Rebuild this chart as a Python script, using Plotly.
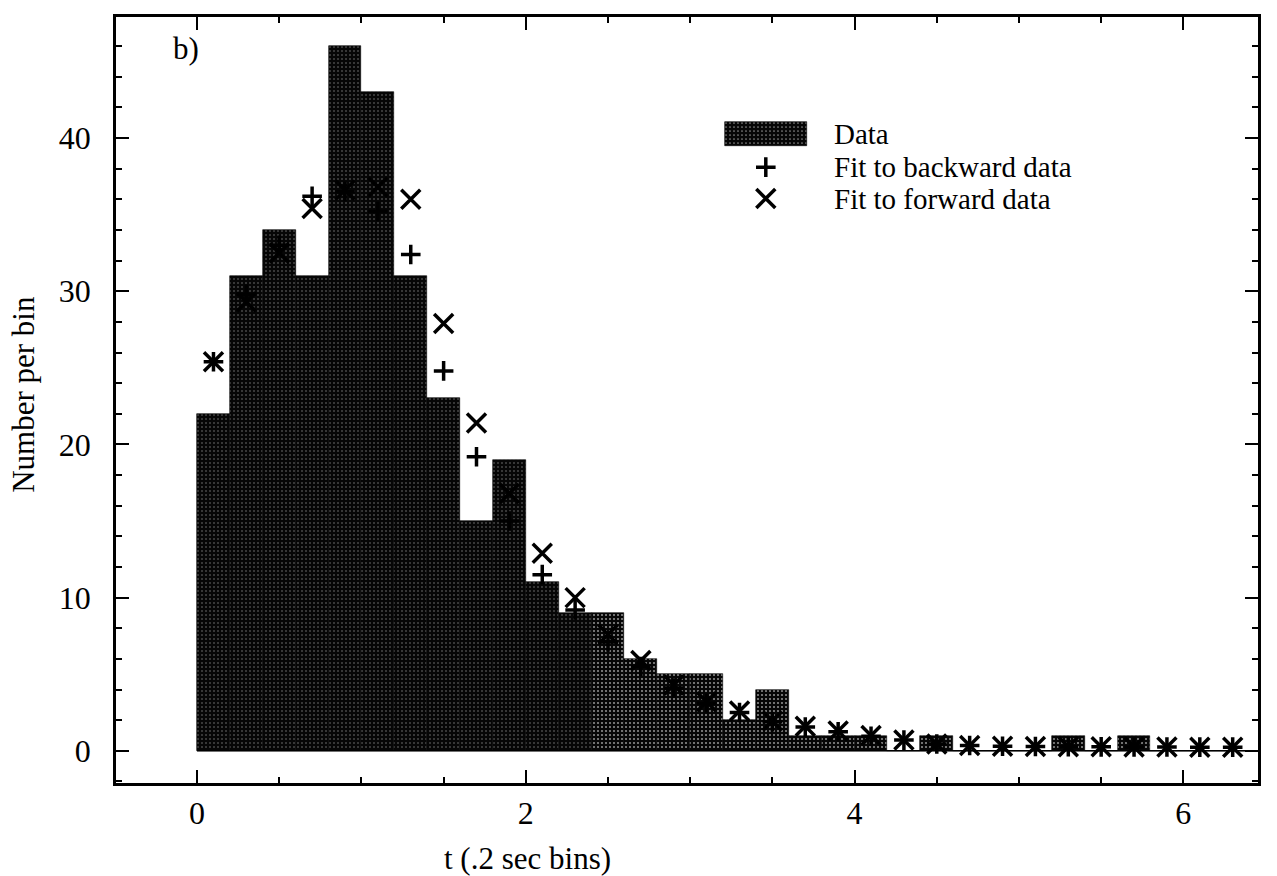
import plotly.graph_objects as go

# ---- data ----
bin_edges = [round(0.2 * i, 1) for i in range(33)]  # 0.0 .. 6.4
counts = [22, 31, 34, 31, 46, 43, 31, 23, 15, 19, 11, 9, 9, 6, 5, 5,
          2, 4, 1, 1, 1, 0, 1, 0, 0, 0, 1, 0, 1, 0, 0, 0]
bin_centers = [round((bin_edges[i] + bin_edges[i + 1]) / 2, 2) for i in range(len(counts))]
bin_widths = [round(bin_edges[i + 1] - bin_edges[i], 2) for i in range(len(counts))]

fit_backward = [25.4, 29.8, 33.0, 36.2, 36.5, 35.2, 32.4, 24.8, 19.2, 15.0,
                11.5, 9.2, 7.1, 5.5, 4.1, 3.1, 2.5, 1.9, 1.55, 1.25,
                0.95, 0.7, 0.45, 0.35, 0.3, 0.28, 0.27, 0.26, 0.25, 0.25, 0.24, 0.24]
fit_forward = [25.4, 29.3, 32.5, 35.4, 36.6, 36.8, 36.0, 27.9, 21.4, 16.8,
               12.9, 10.0, 7.6, 5.9, 4.3, 3.2, 2.6, 1.95, 1.6, 1.3,
               1.0, 0.7, 0.45, 0.35, 0.3, 0.28, 0.27, 0.26, 0.25, 0.25, 0.24, 0.24]

legend_labels = ["Data", "Fit to backward data", "Fit to forward data"]
x_title = "t (.2 sec bins)"
y_title = "Number per bin"
panel_label = "b)"

# ---- style ----
FONT = "Liberation Serif"
bar_solidity = [0.09] * 12 + [0.22] * 20   # stipple gets lighter to the right

bar_marker = dict(
    color="#060606",
    line=dict(color="black", width=0.6),
    pattern=dict(shape=".", fgcolor="#8c8c8c", bgcolor="#060606",
                 size=4, solidity=bar_solidity, fillmode="replace"),
)
legend_bar_marker = dict(
    color="#060606",
    line=dict(color="black", width=0.6),
    pattern=dict(shape=".", fgcolor="#8c8c8c", bgcolor="#060606",
                 size=4, solidity=0.14, fillmode="replace"),
)

fig = go.Figure()

# baseline line at zero
fig.add_trace(go.Scatter(x=[bin_edges[0], bin_edges[-1]], y=[0, 0], mode="lines",
                         line=dict(color="black", width=1.5), showlegend=False,
                         hoverinfo="skip"))

fig.add_trace(go.Bar(x=bin_centers, y=counts, width=bin_widths, marker=bar_marker,
                     name=legend_labels[0], showlegend=False))

fig.add_trace(go.Scatter(x=bin_centers, y=fit_backward, mode="markers",
                         name=legend_labels[1], showlegend=False,
                         marker=dict(symbol="cross-thin", size=14, color="black",
                                     line=dict(color="black", width=3.5))))
fig.add_trace(go.Scatter(x=bin_centers, y=fit_forward, mode="markers",
                         name=legend_labels[2], showlegend=False,
                         marker=dict(symbol="x-thin", size=19, color="black",
                                     line=dict(color="black", width=3.5))))

# ---- manual legend on overlay axes (0..1 coordinates of the plot area) ----
leg_x_sw = 0.569
leg_rows = [0.847, 0.804, 0.763]
fig.add_trace(go.Bar(x=[leg_x_sw], y=[0.032], base=[leg_rows[0] - 0.016], width=[0.072],
                     marker=legend_bar_marker, xaxis="x2", yaxis="y2", showlegend=False,
                     hoverinfo="skip"))
fig.add_trace(go.Scatter(x=[leg_x_sw], y=[leg_rows[1]], mode="markers", xaxis="x2", yaxis="y2",
                         showlegend=False, hoverinfo="skip",
                         marker=dict(symbol="cross-thin", size=14, color="black",
                                     line=dict(color="black", width=3.5))))
fig.add_trace(go.Scatter(x=[leg_x_sw], y=[leg_rows[2]], mode="markers", xaxis="x2", yaxis="y2",
                         showlegend=False, hoverinfo="skip",
                         marker=dict(symbol="x-thin", size=19, color="black",
                                     line=dict(color="black", width=3.5))))

annotations = []
for lbl, yy in zip(legend_labels, leg_rows):
    annotations.append(dict(text=lbl, x=0.627, y=yy, xref="paper", yref="paper",
                            xanchor="left", yanchor="middle", showarrow=False,
                            font=dict(family=FONT, size=29, color="black")))
annotations.append(dict(text=panel_label, x=0.0613, y=0.9595, xref="paper", yref="paper",
                        xanchor="center", yanchor="middle", showarrow=False,
                        font=dict(family=FONT, size=31, color="black")))
annotations.append(dict(text=y_title, x=-0.0806, y=0.508, xref="paper", yref="paper",
                        xanchor="center", yanchor="middle", showarrow=False, textangle=-90,
                        font=dict(family=FONT, size=31, color="black")))
annotations.append(dict(text=x_title, x=0.36, y=-0.098, xref="paper", yref="paper",
                        xanchor="center", yanchor="middle", showarrow=False,
                        font=dict(family=FONT, size=31, color="black")))

axis_common = dict(showline=True, linecolor="black", linewidth=2.5, mirror="ticks",
                   ticks="inside", ticklen=13, tickwidth=2, tickcolor="black",
                   showgrid=False, zeroline=False,
                   tickfont=dict(family=FONT, size=32, color="black"))

fig.update_layout(
    width=1277, height=876,
    margin=dict(l=116, r=19, t=17, b=93),
    paper_bgcolor="white", plot_bgcolor="white",
    barmode="overlay",
    bargap=0,
    annotations=annotations,
    xaxis=dict(range=[-0.493, 6.454], tickvals=[0, 2, 4, 6], ticklabelstandoff=0,
               minor=dict(dtick=0.5, ticks="inside", ticklen=6, tickwidth=1.5,
                          tickcolor="black", showgrid=False),
               **axis_common),
    yaxis=dict(range=[-2.1, 47.9], tickvals=[0, 10, 20, 30, 40], ticklabelstandoff=16,
               minor=dict(dtick=2, ticks="inside", ticklen=6, tickwidth=1.5,
                          tickcolor="black", showgrid=False),
               **axis_common),
    xaxis2=dict(overlaying="x", range=[0, 1], visible=False, anchor="y2"),
    yaxis2=dict(overlaying="y", range=[0, 1], visible=False, anchor="x2"),
    showlegend=False,
)

fig.write_html("out.html")
